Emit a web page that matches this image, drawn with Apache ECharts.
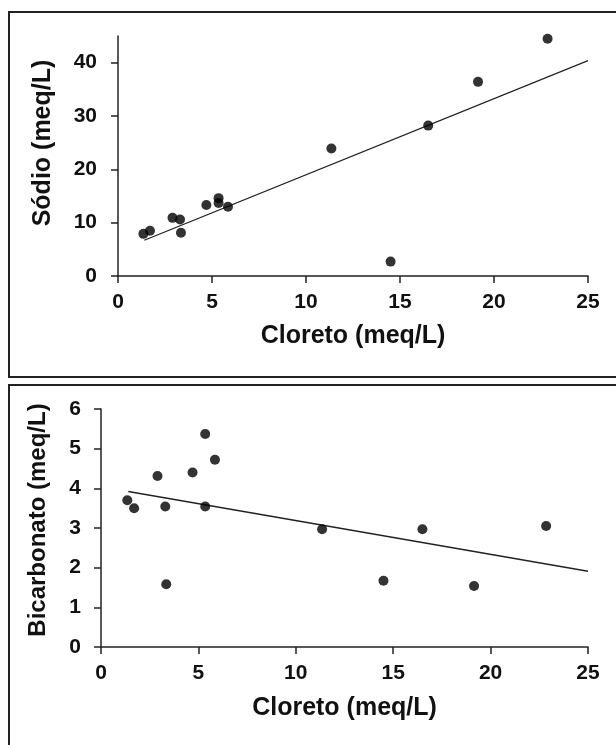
<!DOCTYPE html>
<html>
<head>
<meta charset="utf-8">
<script src="https://cdn.jsdelivr.net/npm/echarts@6/dist/echarts.min.js"></script>
<style>
    html, body { margin: 0; padding: 0; background: #fff; }
    #chart { width: 616px; height: 745px; }
</style>
</head>
<body>
<div id="chart"></div>
<script>
// valores
const cloreto = [1.35, 1.7, 2.9, 3.3, 3.35, 4.7, 5.35, 5.35, 5.85, 11.35, 14.5, 16.5, 19.15, 22.85];
const sodio = [7.9, 8.5, 10.9, 10.6, 8.1, 13.3, 14.6, 13.7, 13.0, 23.9, 2.7, 28.2, 36.4, 44.5];
const bicarbonato = [3.70, 3.50, 4.31, 3.54, 1.58, 4.40, 5.37, 3.54, 4.72, 2.97, 1.67, 2.97, 1.54, 3.05];

// linhas de tendência (extremos)
const trendX = [1.4, 25];
const trendSodio = [6.7, 40.4];
const trendBicarbonato = [3.92, 1.91];

const sodioTicks = [0, 10, 20, 30, 40];

const font = '"Liberation Sans", Arial, sans-serif';

function pairs (xs, ys) {
    return xs.map((x, i) => [x, ys[i]]);
}

function xAxisOpt (gridIndex, gap) {
    return {
        gridIndex: gridIndex,
        type: 'value',
        min: 0,
        max: 25,
        interval: 5,
        name: 'Cloreto (meq/L)',
        nameLocation: 'middle',
        nameGap: gap,
        nameTextStyle: { fontFamily: font, fontWeight: 'bold', fontSize: 25, color: '#111' },
        axisLine: { lineStyle: { color: '#222', width: 1.5 } },
        axisTick: { length: 7, lineStyle: { color: '#222', width: 1.5 } },
        axisLabel: { margin: 16, fontFamily: font, fontWeight: 'bold', fontSize: 21, color: '#111' },
        splitLine: { show: false }
    };
}

const chart = echarts.init(document.getElementById('chart'));
chart.setOption({
    animation: false,
    backgroundColor: '#fff',
    graphic: [
        {
            type: 'rect',
            shape: { x: 9, y: 12, width: 700, height: 365 },
            style: { fill: 'none', stroke: '#222', lineWidth: 2 },
            silent: true
        },
        {
            type: 'rect',
            shape: { x: 9, y: 385, width: 700, height: 420 },
            style: { fill: 'none', stroke: '#222', lineWidth: 2 },
            silent: true
        }
    ],
    grid: [
        { left: 118, right: 28, top: 36, bottom: 469 },
        { left: 101, right: 28, top: 409, bottom: 98 }
    ],
    xAxis: [
        xAxisOpt(0, 48),
        xAxisOpt(1, 49)
    ],
    yAxis: [
        {
            gridIndex: 0,
            type: 'value',
            min: 0,
            max: 45,
            name: 'Sódio (meq/L)',
            nameLocation: 'middle',
            nameGap: 62,
            nameTextStyle: { fontFamily: font, fontWeight: 'bold', fontSize: 25, color: '#111', padding: [0, 0, 0, 26] },
            axisLine: { show: true, lineStyle: { color: '#222', width: 1.5 } },
            axisTick: { show: true, length: 7, customValues: sodioTicks, lineStyle: { color: '#222', width: 1.5 } },
            axisLabel: { margin: 21, customValues: sodioTicks, fontFamily: font, fontWeight: 'bold', fontSize: 21, color: '#111' },
            splitLine: { show: false }
        },
        {
            gridIndex: 1,
            type: 'value',
            min: 0,
            max: 6,
            interval: 1,
            name: 'Bicarbonato (meq/L)',
            nameLocation: 'middle',
            nameGap: 51,
            nameTextStyle: { fontFamily: font, fontWeight: 'bold', fontSize: 24, color: '#111', padding: [0, 0, 0, 16] },
            axisLine: { show: true, lineStyle: { color: '#222', width: 1.5 } },
            axisTick: { show: true, length: 7, lineStyle: { color: '#222', width: 1.5 } },
            axisLabel: { margin: 20, fontFamily: font, fontWeight: 'bold', fontSize: 21, color: '#111' },
            splitLine: { show: false }
        }
    ],
    series: [
        {
            type: 'line',
            xAxisIndex: 0,
            yAxisIndex: 0,
            data: pairs(trendX, trendSodio),
            symbol: 'none',
            lineStyle: { color: '#222', width: 1.3 },
            z: 2
        },
        {
            type: 'scatter',
            xAxisIndex: 0,
            yAxisIndex: 0,
            data: pairs(cloreto, sodio),
            symbolSize: 10,
            itemStyle: { color: '#000' },
            z: 3
        },
        {
            type: 'line',
            xAxisIndex: 1,
            yAxisIndex: 1,
            data: pairs(trendX, trendBicarbonato),
            symbol: 'none',
            lineStyle: { color: '#222', width: 1.3 },
            z: 2
        },
        {
            type: 'scatter',
            xAxisIndex: 1,
            yAxisIndex: 1,
            data: pairs(cloreto, bicarbonato),
            symbolSize: 10,
            itemStyle: { color: '#000' },
            z: 3
        }
    ]
});
</script>
</body>
</html>
